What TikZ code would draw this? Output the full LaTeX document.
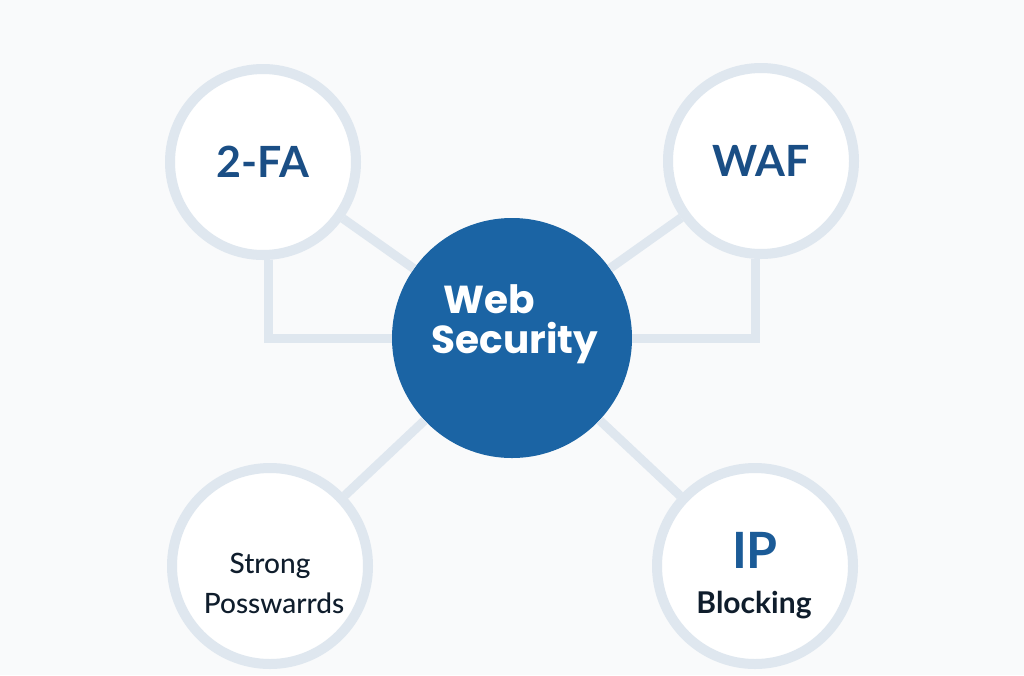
\documentclass[tikz,border=0pt]{standalone}
\usepackage{fontspec}
\setmainfont{Lato}
\newfontfamily\hubfont{Poppins}
\newfontfamily\latomed{Lato Medium}
\definecolor{bgc}{HTML}{F9FAFB}
\definecolor{ringc}{HTML}{DFE7EF}
\definecolor{webc}{HTML}{1B64A4}
\definecolor{lblue}{HTML}{1A4E85}
\definecolor{ipblue}{HTML}{1B5B97}
\definecolor{darkt}{HTML}{0F1D2C}
\tikzset{
  ring/.style={circle, draw=ringc, line width=10pt, fill=white, inner sep=0pt},
  conn/.style={draw=ringc, line width=9pt},
  hub/.style={circle, fill=webc, inner sep=0pt, minimum size=240pt},
  toplabel/.style={text=lblue, font=\fontsize{43}{43}\selectfont\bfseries},
  linetext/.style={anchor=base, inner sep=0pt},
  hubtext/.style={linetext, text=white, font=\hubfont\fontsize{39}{39}\selectfont\bfseries},
  sptext/.style={linetext, text=darkt, font=\latomed\fontsize{28}{28}\selectfont},
}
\begin{document}
\begin{tikzpicture}[x=1pt,y=-1pt]
\useasboundingbox[fill=bgc] (0,0) rectangle (1024,675);
% nodes
\node[ring, minimum size=186pt, toplabel] (fa) at (263,162) {2-FA};
\node[ring, minimum size=186pt, toplabel] (waf) at (761,161) {WAF};
\node[ring, minimum size=196pt] (sp) at (270,566) {};
\node[ring, minimum size=196pt] (ip) at (755,566) {};
\node[hub] (web) at (512,338) {};
% connectors (clipped at node borders)
\draw[conn] (fa) -- (web);
\draw[conn] (waf) -- (web);
\draw[conn] (sp) -- (web);
\draw[conn] (ip) -- (web);
\draw[conn] ([xshift=5pt]fa.south) |- (web.west);
\draw[conn] ([xshift=-6pt]waf.south) |- (web.east);
% texts
\node[hubtext] (webt1) at (489,313) {Web};
\node[hubtext] (webt2) at (515,353) {Security};
\node[sptext] (spt1) at (270,573) {Strong};
\node[sptext] (spt2) at (274,613) {Posswarrds};
\node[linetext, text=ipblue, font=\fontsize{50}{50}\selectfont\bfseries] (ipt1) at (755,568) {IP};
\node[linetext, text=darkt, font=\fontsize{30}{30}\selectfont\bfseries] (ipt2) at (754,613) {Blocking};
\end{tikzpicture}
\end{document}
